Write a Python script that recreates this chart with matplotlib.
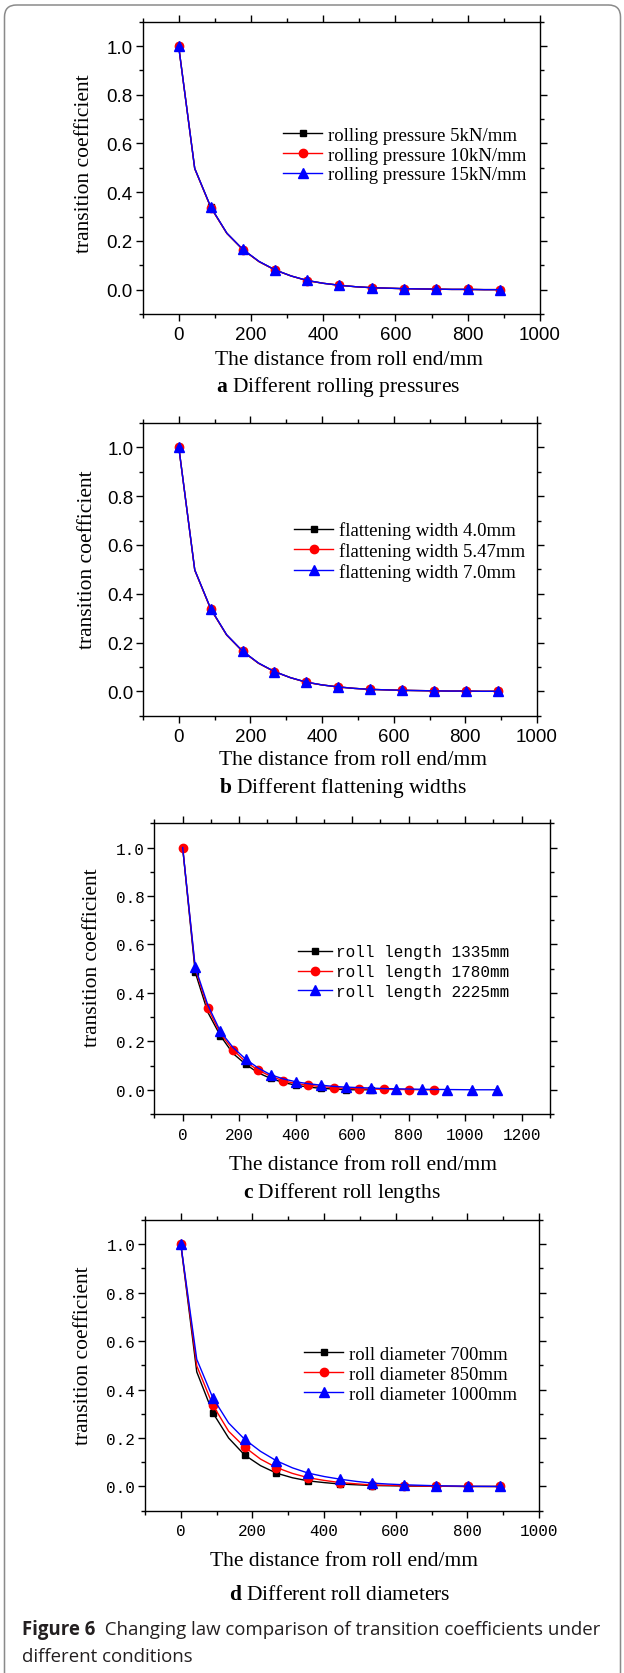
import matplotlib.pyplot as plt
from matplotlib.patches import FancyBboxPatch
from matplotlib.ticker import MultipleLocator

plt.rcParams['font.family'] = ['Liberation Serif', 'DejaVu Serif']
plt.rcParams['mathtext.fontset'] = 'custom'
plt.rcParams['mathtext.rm'] = 'Liberation Serif'
plt.rcParams['mathtext.bf'] = 'Liberation Serif:bold'

W, H = 624, 1674

# distance from roll end (mm), 44.5 mm steps
dist_890 = [0, 44.5, 89, 133.5, 178, 222.5, 267, 311.5, 356, 400.5, 445,
            489.5, 534, 578.5, 623, 667.5, 712, 756.5, 801, 845.5, 890]
dist_667 = [0, 44.5, 89, 133.5, 178, 222.5, 267, 311.5, 356, 400.5, 445,
            489.5, 534, 578.5, 623, 667.5]
dist_1112 = [0, 44.5, 89, 133.5, 178, 222.5, 267, 311.5, 356, 400.5, 445,
             489.5, 534, 578.5, 623, 667.5, 712, 756.5, 801, 845.5, 890,
             934.5, 979, 1023.5, 1068, 1112.5]

# (a) rolling pressure
press_labels = ['rolling pressure 5kN/mm', 'rolling pressure 10kN/mm', 'rolling pressure 15kN/mm']
press_5 = [1.0, 0.497, 0.338, 0.231, 0.164, 0.115, 0.081, 0.056, 0.037, 0.026, 0.018,
           0.012, 0.008, 0.006, 0.004, 0.003, 0.002, 0.001, 0.001, 0.0, 0.0]
press_10 = [1.0, 0.497, 0.337, 0.231, 0.164, 0.115, 0.080, 0.056, 0.037, 0.026, 0.018,
            0.012, 0.008, 0.006, 0.004, 0.003, 0.002, 0.001, 0.001, 0.0, 0.0]
press_15 = [1.0, 0.498, 0.339, 0.232, 0.165, 0.116, 0.081, 0.056, 0.038, 0.026, 0.018,
            0.012, 0.008, 0.006, 0.004, 0.003, 0.002, 0.001, 0.001, 0.0, 0.0]

# (b) flattening width
flat_labels = ['flattening width 4.0mm', 'flattening width 5.47mm', 'flattening width 7.0mm']
flat_40 = [1.0, 0.497, 0.338, 0.231, 0.164, 0.115, 0.081, 0.056, 0.037, 0.026, 0.018,
           0.012, 0.008, 0.006, 0.004, 0.003, 0.002, 0.001, 0.001, 0.0, 0.0]
flat_547 = [1.0, 0.497, 0.337, 0.231, 0.164, 0.115, 0.080, 0.056, 0.037, 0.026, 0.018,
            0.012, 0.008, 0.006, 0.004, 0.003, 0.002, 0.001, 0.001, 0.0, 0.0]
flat_70 = [1.0, 0.498, 0.339, 0.232, 0.165, 0.116, 0.081, 0.056, 0.038, 0.026, 0.018,
           0.012, 0.008, 0.006, 0.004, 0.003, 0.002, 0.001, 0.001, 0.0, 0.0]

# (c) roll length
length_labels = ['roll length 1335mm', 'roll length 1780mm', 'roll length 2225mm']
len_1335 = [1.0, 0.485, 0.320, 0.223, 0.150, 0.106, 0.070, 0.047, 0.030, 0.019, 0.011,
            0.006, 0.003, 0.0, 0.0, 0.0]
len_1780 = [1.0, 0.500, 0.337, 0.232, 0.165, 0.116, 0.081, 0.056, 0.037, 0.026, 0.019,
            0.013, 0.009, 0.006, 0.004, 0.003, 0.002, 0.001, 0.001, 0.0, 0.0]
len_2225 = [1.0, 0.506, 0.350, 0.241, 0.175, 0.127, 0.090, 0.062, 0.045, 0.033, 0.025,
            0.019, 0.014, 0.011, 0.009, 0.007, 0.005, 0.004, 0.003, 0.002, 0.0015,
            0.001, 0.0005, 0.0, 0.0, 0.0]

# (d) roll diameter
diam_labels = ['roll diameter 700mm', 'roll diameter 850mm', 'roll diameter 1000mm']
diam_700 = [1.0, 0.473, 0.305, 0.200, 0.130, 0.086, 0.055, 0.036, 0.023, 0.016, 0.010,
            0.007, 0.004, 0.003, 0.002, 0.0015, 0.001, 0.0005, 0.0, 0.0, 0.0]
diam_850 = [1.0, 0.498, 0.337, 0.228, 0.163, 0.113, 0.078, 0.054, 0.036, 0.025, 0.016,
            0.011, 0.006, 0.005, 0.003, 0.002, 0.001, 0.001, 0.0, 0.0, 0.0]
diam_1000 = [1.0, 0.525, 0.367, 0.262, 0.195, 0.145, 0.106, 0.077, 0.055, 0.041, 0.030,
             0.021, 0.014, 0.010, 0.007, 0.005, 0.003, 0.002, 0.001, 0.0005, 0.0]

colors = ['black', 'red', 'blue']
markers = ['s', 'o', '^']
msizes = [5, 6, 6.5]


def px_axes(fig, left, top, right, bottom):
    return fig.add_axes([left / W, 1 - bottom / H, (right - left) / W, (bottom - top) / H])


def draw_panel(ax, series, labels, every, xmax, tick_font, tick_size,
               leg_font, leg_size, leg_xy, leg_space):
    for i, (x, y) in enumerate(series):
        ax.plot(x, y, color=colors[i], marker=markers[i], ms=msizes[i], lw=1.0,
                markevery=every[i], label=labels[i], zorder=2 + i)
    ax.set_xlim(-100, xmax)
    ax.set_ylim(-0.1, 1.1)
    ax.xaxis.set_major_locator(MultipleLocator(200))
    ax.xaxis.set_minor_locator(MultipleLocator(100))
    ax.yaxis.set_major_locator(MultipleLocator(0.2))
    ax.yaxis.set_minor_locator(MultipleLocator(0.1))
    ax.tick_params(which='both', direction='out', top=True, right=True, width=1,
                   labelsize=tick_size)
    ax.tick_params(which='major', length=5)
    ax.tick_params(which='minor', length=3)
    ax.tick_params(axis='y', pad=2)
    ax.tick_params(axis='x', pad=4)
    plt.setp(ax.get_xticklabels() + ax.get_yticklabels(), fontfamily=tick_font)
    for s in ax.spines.values():
        s.set_linewidth(1.0)
    ax.legend(loc='center left', bbox_to_anchor=leg_xy, frameon=False, borderpad=0,
              borderaxespad=0, handlelength=2.1, handletextpad=0.3,
              labelspacing=leg_space, prop={'family': leg_font, 'size': leg_size})


fig = plt.figure(figsize=(W / 100, H / 100), dpi=100)

# background layer: frame and all free texts in pixel coordinates
bg = fig.add_axes([0, 0, 1, 1], zorder=-1)
bg.set_xlim(0, W)
bg.set_ylim(H, 0)
bg.axis('off')
bg.add_patch(FancyBboxPatch((4.5, 6), 616, 1720, boxstyle='round,pad=0,rounding_size=12',
                            fill=False, ec='#8a8a8a', lw=1.1))

sans = ['Liberation Sans', 'DejaVu Sans']
mono = ['Liberation Mono', 'DejaVu Sans Mono']
serif = ['Liberation Serif', 'DejaVu Serif']
ev_even = slice(0, None, 2)
ev_odd = slice(1, None, 2)

ax_a = px_axes(fig, 142.5, 22.7, 540, 315)
draw_panel(ax_a, [(dist_890, press_5), (dist_890, press_10), (dist_890, press_15)],
           press_labels, [ev_even] * 3, 1000, sans, 13.5, serif, 13.5, (0.353, 0.544), 0.15)

ax_b = px_axes(fig, 143, 424, 537, 716.7)
draw_panel(ax_b, [(dist_890, flat_40), (dist_890, flat_547), (dist_890, flat_70)],
           flat_labels, [ev_even] * 3, 1000, sans, 13.5, serif, 13.5, (0.383, 0.563), 0.15)

ax_c = px_axes(fig, 154.4, 824.3, 550, 1115)
draw_panel(ax_c, [(dist_667, len_1335), (dist_890, len_1780), (dist_1112, len_2225)],
           length_labels, [ev_odd, ev_even, ev_odd], 1300, mono, 11.5, mono, 11.5,
           (0.363, 0.4895), 0.3)

ax_d = px_axes(fig, 145, 1221, 539, 1511.7)
draw_panel(ax_d, [(dist_890, diam_700), (dist_890, diam_850), (dist_890, diam_1000)],
           diam_labels, [ev_even] * 3, 1000, mono, 11.5, serif, 13.5, (0.4036, 0.470), 0.15)

xlabel = 'The distance from roll end/mm'
ylabel = 'transition coefficient'
label_pos = [(348.6, 360, 84.8, 164, r'$\mathbf{a}$ Different rolling pressures', 338, 387),
             (352.6, 760, 87, 560, r'$\mathbf{b}$ Different flattening widths', 343, 788),
             (362.7, 1165, 92.5, 957.5, r'$\mathbf{c}$ Different roll lengths', 341.6, 1192.7),
             (343.6, 1561.7, 83.6, 1355.7, r'$\mathbf{d}$ Different roll diameters', 339.6, 1596)]
for xl_x, xl_y, yl_x, yl_y, cap, cap_x, cap_y in label_pos:
    bg.text(xl_x, xl_y, xlabel, ha='center', va='center', fontsize=15.5)
    bg.text(yl_x, yl_y, ylabel, ha='center', va='center', rotation=90, fontsize=15.5)
    bg.text(cap_x, cap_y, cap, ha='center', va='center', fontsize=15.5)

cap_font = ['Open Sans', 'DejaVu Sans']
t = bg.text(22, 1630, 'Figure 6', ha='left', va='center', fontsize=13.4,
            fontweight='bold', family=cap_font, color='#231f20')
bg.annotate('  Changing law comparison of transition coefficients under',
            xy=(1, 0.5), xycoords=t, ha='left', va='center', fontsize=13.4,
            family=cap_font, color='#231f20')
bg.text(22, 1656.7, 'different conditions', ha='left', va='center', fontsize=13.4,
        family=cap_font, color='#231f20')

plt.savefig('out.png', dpi=100)
